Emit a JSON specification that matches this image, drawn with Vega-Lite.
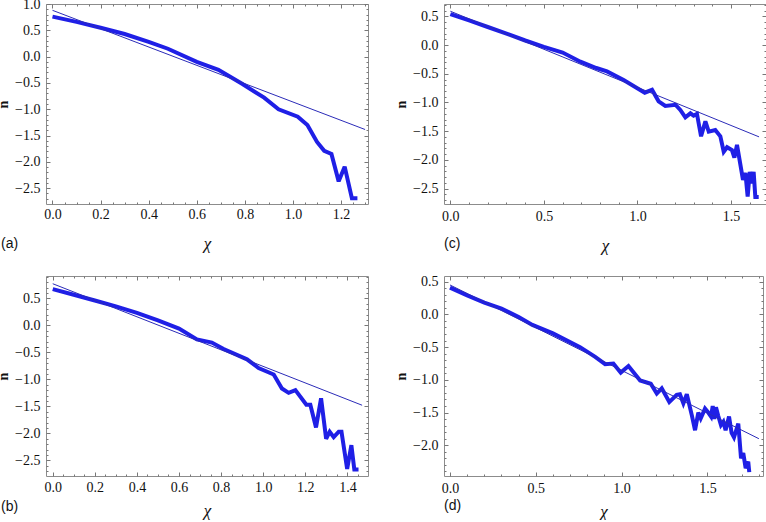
{
  "$schema": "https://vega.github.io/schema/vega-lite/v6.json",
  "padding": {"left": -4, "top": -4, "right": 0, "bottom": 0},
  "background": "white",
  "datasets": {
    "a": [
      {"s": "thick", "x": 0, "y": 0.76}, {"s": "thick", "x": 0.1, "y": 0.66}, {"s": "thick", "x": 0.2, "y": 0.55}, {"s": "thick", "x": 0.3, "y": 0.43}, {"s": "thick", "x": 0.4, "y": 0.28}, {"s": "thick", "x": 0.48, "y": 0.15}, {"s": "thick", "x": 0.6, "y": -0.1}, {"s": "thick", "x": 0.69, "y": -0.25}, {"s": "thick", "x": 0.79, "y": -0.52}, {"s": "thick", "x": 0.88, "y": -0.78}, {"s": "thick", "x": 0.94, "y": -1.0}, {"s": "thick", "x": 1.02, "y": -1.14}, {"s": "thick", "x": 1.06, "y": -1.3}, {"s": "thick", "x": 1.1, "y": -1.62}, {"s": "thick", "x": 1.13, "y": -1.79}, {"s": "thick", "x": 1.16, "y": -1.85}, {"s": "thick", "x": 1.19, "y": -2.37}, {"s": "thick", "x": 1.215, "y": -2.09}, {"s": "thick", "x": 1.245, "y": -2.69}, {"s": "thick", "x": 1.268, "y": -2.69},
      {"s": "fit", "x": 0, "y": 0.88}, {"s": "fit", "x": 1.3, "y": -1.385}
    ],
    "b": [
      {"s": "thick", "x": 0, "y": 0.67}, {"s": "thick", "x": 0.1, "y": 0.565}, {"s": "thick", "x": 0.2, "y": 0.46}, {"s": "thick", "x": 0.3, "y": 0.35}, {"s": "thick", "x": 0.4, "y": 0.23}, {"s": "thick", "x": 0.5, "y": 0.09}, {"s": "thick", "x": 0.6, "y": -0.06}, {"s": "thick", "x": 0.685, "y": -0.26}, {"s": "thick", "x": 0.756, "y": -0.32}, {"s": "thick", "x": 0.812, "y": -0.44}, {"s": "thick", "x": 0.923, "y": -0.63}, {"s": "thick", "x": 0.978, "y": -0.79}, {"s": "thick", "x": 1.05, "y": -0.91}, {"s": "thick", "x": 1.089, "y": -1.17}, {"s": "thick", "x": 1.121, "y": -1.25}, {"s": "thick", "x": 1.153, "y": -1.2}, {"s": "thick", "x": 1.205, "y": -1.47}, {"s": "thick", "x": 1.224, "y": -1.47}, {"s": "thick", "x": 1.251, "y": -1.89}, {"s": "thick", "x": 1.275, "y": -1.35}, {"s": "thick", "x": 1.299, "y": -2.1}, {"s": "thick", "x": 1.316, "y": -1.97}, {"s": "thick", "x": 1.335, "y": -2.07}, {"s": "thick", "x": 1.359, "y": -1.97}, {"s": "thick", "x": 1.372, "y": -1.97}, {"s": "thick", "x": 1.399, "y": -2.66}, {"s": "thick", "x": 1.419, "y": -2.22}, {"s": "thick", "x": 1.433, "y": -2.67}, {"s": "thick", "x": 1.453, "y": -2.67},
      {"s": "fit", "x": 0, "y": 0.77}, {"s": "fit", "x": 1.47, "y": -1.48}
    ],
    "c": [
      {"s": "thick", "x": 0, "y": 0.54}, {"s": "thick", "x": 0.1, "y": 0.43}, {"s": "thick", "x": 0.2, "y": 0.315}, {"s": "thick", "x": 0.3, "y": 0.2}, {"s": "thick", "x": 0.4, "y": 0.08}, {"s": "thick", "x": 0.5, "y": -0.03}, {"s": "thick", "x": 0.6, "y": -0.13}, {"s": "thick", "x": 0.695, "y": -0.29}, {"s": "thick", "x": 0.78, "y": -0.4}, {"s": "thick", "x": 0.837, "y": -0.46}, {"s": "thick", "x": 0.926, "y": -0.61}, {"s": "thick", "x": 1.039, "y": -0.83}, {"s": "thick", "x": 1.078, "y": -0.78}, {"s": "thick", "x": 1.113, "y": -0.98}, {"s": "thick", "x": 1.149, "y": -1.06}, {"s": "thick", "x": 1.203, "y": -1.04}, {"s": "thick", "x": 1.229, "y": -1.13}, {"s": "thick", "x": 1.256, "y": -1.26}, {"s": "thick", "x": 1.283, "y": -1.19}, {"s": "thick", "x": 1.3, "y": -1.23}, {"s": "thick", "x": 1.318, "y": -1.2}, {"s": "thick", "x": 1.34, "y": -1.59}, {"s": "thick", "x": 1.363, "y": -1.33}, {"s": "thick", "x": 1.381, "y": -1.51}, {"s": "thick", "x": 1.416, "y": -1.48}, {"s": "thick", "x": 1.443, "y": -1.59}, {"s": "thick", "x": 1.461, "y": -1.86}, {"s": "thick", "x": 1.479, "y": -1.78}, {"s": "thick", "x": 1.505, "y": -1.83}, {"s": "thick", "x": 1.518, "y": -1.96}, {"s": "thick", "x": 1.532, "y": -1.74}, {"s": "thick", "x": 1.564, "y": -2.35}, {"s": "thick", "x": 1.577, "y": -2.23}, {"s": "thick", "x": 1.589, "y": -2.64}, {"s": "thick", "x": 1.6, "y": -2.21}, {"s": "thick", "x": 1.61, "y": -2.41}, {"s": "thick", "x": 1.621, "y": -2.21}, {"s": "thick", "x": 1.63, "y": -2.65}, {"s": "thick", "x": 1.648, "y": -2.65},
      {"s": "fit", "x": 0, "y": 0.59}, {"s": "fit", "x": 1.65, "y": -1.6}
    ],
    "d": [
      {"s": "thick", "x": 0, "y": 0.41}, {"s": "thick", "x": 0.1, "y": 0.29}, {"s": "thick", "x": 0.2, "y": 0.18}, {"s": "thick", "x": 0.3, "y": 0.09}, {"s": "thick", "x": 0.4, "y": -0.04}, {"s": "thick", "x": 0.48, "y": -0.16}, {"s": "thick", "x": 0.6, "y": -0.29}, {"s": "thick", "x": 0.758, "y": -0.5}, {"s": "thick", "x": 0.846, "y": -0.65}, {"s": "thick", "x": 0.904, "y": -0.76}, {"s": "thick", "x": 0.952, "y": -0.75}, {"s": "thick", "x": 0.995, "y": -0.89}, {"s": "thick", "x": 1.04, "y": -0.79}, {"s": "thick", "x": 1.108, "y": -1.01}, {"s": "thick", "x": 1.17, "y": -1.06}, {"s": "thick", "x": 1.205, "y": -1.21}, {"s": "thick", "x": 1.234, "y": -1.13}, {"s": "thick", "x": 1.278, "y": -1.34}, {"s": "thick", "x": 1.321, "y": -1.23}, {"s": "thick", "x": 1.34, "y": -1.22}, {"s": "thick", "x": 1.36, "y": -1.36}, {"s": "thick", "x": 1.38, "y": -1.22}, {"s": "thick", "x": 1.409, "y": -1.54}, {"s": "thick", "x": 1.428, "y": -1.77}, {"s": "thick", "x": 1.447, "y": -1.5}, {"s": "thick", "x": 1.461, "y": -1.59}, {"s": "thick", "x": 1.486, "y": -1.44}, {"s": "thick", "x": 1.505, "y": -1.5}, {"s": "thick", "x": 1.521, "y": -1.56}, {"s": "thick", "x": 1.531, "y": -1.4}, {"s": "thick", "x": 1.54, "y": -1.6}, {"s": "thick", "x": 1.55, "y": -1.42}, {"s": "thick", "x": 1.563, "y": -1.55}, {"s": "thick", "x": 1.579, "y": -1.69}, {"s": "thick", "x": 1.593, "y": -1.64}, {"s": "thick", "x": 1.606, "y": -1.77}, {"s": "thick", "x": 1.626, "y": -1.56}, {"s": "thick", "x": 1.641, "y": -1.81}, {"s": "thick", "x": 1.655, "y": -1.88}, {"s": "thick", "x": 1.68, "y": -1.67}, {"s": "thick", "x": 1.696, "y": -2.2}, {"s": "thick", "x": 1.709, "y": -2.12}, {"s": "thick", "x": 1.723, "y": -2.35}, {"s": "thick", "x": 1.738, "y": -2.25}, {"s": "thick", "x": 1.744, "y": -2.41},
      {"s": "fit", "x": 0, "y": 0.45}, {"s": "fit", "x": 1.8, "y": -1.9}
    ]
  },
  "columns": 2,
  "bounds": "flush",
  "spacing": {"row": 72, "column": 76},
  "concat": [
    {
      "width": 322, "height": 200,
      "data": {"name": "a"},
      "title": {"text": "(a)", "orient": "bottom", "anchor": "start", "frame": "group", "dx": -45, "offset": -14},
      "layer": [
        {"transform": [{"filter": "datum.s == 'thick'"}], "mark": {"type": "line", "color": "#1f1fe6", "strokeWidth": 4, "strokeJoin": "miter", "strokeMiterLimit": 3},
         "encoding": {
           "x": {"field": "x", "type": "quantitative", "scale": {"domain": [-0.027, 1.312], "nice": false, "zero": false},
                 "axis": {"orient": "bottom", "values": [0, 0.2, 0.4, 0.6, 0.8, 1.0, 1.2], "format": ".1f", "tickSize": -4, "labelPadding": 7, "title": "χ"}},
           "y": {"field": "y", "type": "quantitative", "scale": {"domain": [-2.8, 1.0], "nice": false, "zero": false},
                 "axis": {"orient": "left", "values": [-2.5, -2, -1.5, -1, -0.5, 0, 0.5, 1.0], "format": ".1f", "tickSize": -4, "labelPadding": 10, "title": "n"}}
         }},
        {"transform": [{"filter": "datum.s == 'fit'"}], "mark": {"type": "line", "color": "#2b2bb8", "strokeWidth": 1},
         "encoding": {
           "x": {"field": "x", "type": "quantitative", "axis": {"orient": "top", "values": [0, 0.2, 0.4, 0.6, 0.8, 1.0, 1.2], "tickSize": -4, "labels": false, "title": null}},
           "y": {"field": "y", "type": "quantitative", "axis": {"orient": "right", "values": [-2.5, -2, -1.5, -1, -0.5, 0, 0.5, 1.0], "tickSize": -4, "labels": false, "title": null}}
         }},
        {"transform": [{"filter": "datum.s == 'fit'"}], "mark": {"type": "line", "opacity": 0},
         "encoding": {
           "x": {"field": "x", "type": "quantitative", "axis": {"orient": "bottom", "values": [0.05, 0.1, 0.15, 0.25, 0.3, 0.35, 0.45, 0.5, 0.55, 0.65, 0.7, 0.75, 0.85, 0.9, 0.95, 1.05, 1.1, 1.15, 1.25, 1.3], "tickSize": -2, "labels": false, "title": null}},
           "y": {"field": "y", "type": "quantitative", "axis": {"orient": "left", "values": [-2.7, -2.6, -2.4, -2.3, -2.2, -2.1, -1.9, -1.8, -1.7, -1.6, -1.4, -1.3, -1.2, -1.1, -0.9, -0.8, -0.7, -0.6, -0.4, -0.3, -0.2, -0.1, 0.1, 0.2, 0.3, 0.4, 0.6, 0.7, 0.8, 0.9], "tickSize": -2, "labels": false, "title": null}}
         }},
        {"transform": [{"filter": "datum.s == 'fit'"}], "mark": {"type": "line", "opacity": 0},
         "encoding": {
           "x": {"field": "x", "type": "quantitative", "axis": {"orient": "top", "values": [0.05, 0.1, 0.15, 0.25, 0.3, 0.35, 0.45, 0.5, 0.55, 0.65, 0.7, 0.75, 0.85, 0.9, 0.95, 1.05, 1.1, 1.15, 1.25, 1.3], "tickSize": -2, "labels": false, "title": null}},
           "y": {"field": "y", "type": "quantitative", "axis": {"orient": "right", "values": [-2.7, -2.6, -2.4, -2.3, -2.2, -2.1, -1.9, -1.8, -1.7, -1.6, -1.4, -1.3, -1.2, -1.1, -0.9, -0.8, -0.7, -0.6, -0.4, -0.3, -0.2, -0.1, 0.1, 0.2, 0.3, 0.4, 0.6, 0.7, 0.8, 0.9], "tickSize": -2, "labels": false, "title": null}}
         }}
      ],
      "resolve": {"axis": {"x": "independent", "y": "independent"}}
    },
    {
      "width": 322, "height": 200,
      "data": {"name": "c"},
      "title": {"text": "(c)", "orient": "bottom", "anchor": "start", "frame": "group", "dx": 0, "offset": -16},
      "layer": [
        {"transform": [{"filter": "datum.s == 'thick'"}], "mark": {"type": "line", "color": "#1f1fe6", "strokeWidth": 4, "strokeJoin": "miter", "strokeMiterLimit": 3},
         "encoding": {
           "x": {"field": "x", "type": "quantitative", "scale": {"domain": [-0.034, 1.687], "nice": false, "zero": false},
                 "axis": {"orient": "bottom", "values": [0, 0.5, 1.0, 1.5], "format": ".1f", "tickSize": -4, "labelPadding": 9, "title": "χ"}},
           "y": {"field": "y", "type": "quantitative", "scale": {"domain": [-2.77, 0.716], "nice": false, "zero": false},
                 "axis": {"orient": "left", "values": [-2.5, -2, -1.5, -1, -0.5, 0, 0.5], "format": ".1f", "tickSize": -4, "labelPadding": 10, "title": "n"}}
         }},
        {"transform": [{"filter": "datum.s == 'fit'"}], "mark": {"type": "line", "color": "#2b2bb8", "strokeWidth": 1},
         "encoding": {
           "x": {"field": "x", "type": "quantitative", "axis": {"orient": "top", "values": [0, 0.5, 1.0, 1.5], "tickSize": -4, "labels": false, "title": null}},
           "y": {"field": "y", "type": "quantitative", "axis": {"orient": "right", "values": [-2.5, -2, -1.5, -1, -0.5, 0, 0.5], "tickSize": -4, "labels": false, "title": null}}
         }},
        {"transform": [{"filter": "datum.s == 'fit'"}], "mark": {"type": "line", "opacity": 0},
         "encoding": {
           "x": {"field": "x", "type": "quantitative", "axis": {"orient": "bottom", "values": [0.1, 0.2, 0.3, 0.4, 0.6, 0.7, 0.8, 0.9, 1.1, 1.2, 1.3, 1.4, 1.6], "tickSize": -2, "labels": false, "title": null}},
           "y": {"field": "y", "type": "quantitative", "axis": {"orient": "left", "values": [-2.7, -2.6, -2.4, -2.3, -2.2, -2.1, -1.9, -1.8, -1.7, -1.6, -1.4, -1.3, -1.2, -1.1, -0.9, -0.8, -0.7, -0.6, -0.4, -0.3, -0.2, -0.1, 0.1, 0.2, 0.3, 0.4, 0.6, 0.7], "tickSize": -2, "labels": false, "title": null}}
         }},
        {"transform": [{"filter": "datum.s == 'fit'"}], "mark": {"type": "line", "opacity": 0},
         "encoding": {
           "x": {"field": "x", "type": "quantitative", "axis": {"orient": "top", "values": [0.1, 0.2, 0.3, 0.4, 0.6, 0.7, 0.8, 0.9, 1.1, 1.2, 1.3, 1.4, 1.6], "tickSize": -2, "labels": false, "title": null}},
           "y": {"field": "y", "type": "quantitative", "axis": {"orient": "right", "values": [-2.7, -2.6, -2.4, -2.3, -2.2, -2.1, -1.9, -1.8, -1.7, -1.6, -1.4, -1.3, -1.2, -1.1, -0.9, -0.8, -0.7, -0.6, -0.4, -0.3, -0.2, -0.1, 0.1, 0.2, 0.3, 0.4, 0.6, 0.7], "tickSize": -2, "labels": false, "title": null}}
         }}
      ],
      "resolve": {"axis": {"x": "independent", "y": "independent"}}
    },
    {
      "width": 322, "height": 200,
      "data": {"name": "b"},
      "title": {"text": "(b)", "orient": "bottom", "anchor": "start", "frame": "group", "dx": -45, "offset": -18},
      "layer": [
        {"transform": [{"filter": "datum.s == 'thick'"}], "mark": {"type": "line", "color": "#1f1fe6", "strokeWidth": 4, "strokeJoin": "miter", "strokeMiterLimit": 3},
         "encoding": {
           "x": {"field": "x", "type": "quantitative", "scale": {"domain": [-0.032, 1.498], "nice": false, "zero": false},
                 "axis": {"orient": "bottom", "values": [0, 0.2, 0.4, 0.6, 0.8, 1.0, 1.2, 1.4], "format": ".1f", "tickSize": -4, "labelPadding": 8, "title": "χ", "titlePadding": 8}},
           "y": {"field": "y", "type": "quantitative", "scale": {"domain": [-2.79, 0.913], "nice": false, "zero": false},
                 "axis": {"orient": "left", "values": [-2.5, -2, -1.5, -1, -0.5, 0, 0.5], "format": ".1f", "tickSize": -4, "labelPadding": 10, "title": "n"}}
         }},
        {"transform": [{"filter": "datum.s == 'fit'"}], "mark": {"type": "line", "color": "#2b2bb8", "strokeWidth": 1},
         "encoding": {
           "x": {"field": "x", "type": "quantitative", "axis": {"orient": "top", "values": [0, 0.2, 0.4, 0.6, 0.8, 1.0, 1.2, 1.4], "tickSize": -4, "labels": false, "title": null}},
           "y": {"field": "y", "type": "quantitative", "axis": {"orient": "right", "values": [-2.5, -2, -1.5, -1, -0.5, 0, 0.5], "tickSize": -4, "labels": false, "title": null}}
         }},
        {"transform": [{"filter": "datum.s == 'fit'"}], "mark": {"type": "line", "opacity": 0},
         "encoding": {
           "x": {"field": "x", "type": "quantitative", "axis": {"orient": "bottom", "values": [0.05, 0.1, 0.15, 0.25, 0.3, 0.35, 0.45, 0.5, 0.55, 0.65, 0.7, 0.75, 0.85, 0.9, 0.95, 1.05, 1.1, 1.15, 1.25, 1.3, 1.35, 1.45], "tickSize": -2, "labels": false, "title": null}},
           "y": {"field": "y", "type": "quantitative", "axis": {"orient": "left", "values": [-2.7, -2.6, -2.4, -2.3, -2.2, -2.1, -1.9, -1.8, -1.7, -1.6, -1.4, -1.3, -1.2, -1.1, -0.9, -0.8, -0.7, -0.6, -0.4, -0.3, -0.2, -0.1, 0.1, 0.2, 0.3, 0.4, 0.6, 0.7, 0.8, 0.9], "tickSize": -2, "labels": false, "title": null}}
         }},
        {"transform": [{"filter": "datum.s == 'fit'"}], "mark": {"type": "line", "opacity": 0},
         "encoding": {
           "x": {"field": "x", "type": "quantitative", "axis": {"orient": "top", "values": [0.05, 0.1, 0.15, 0.25, 0.3, 0.35, 0.45, 0.5, 0.55, 0.65, 0.7, 0.75, 0.85, 0.9, 0.95, 1.05, 1.1, 1.15, 1.25, 1.3, 1.35, 1.45], "tickSize": -2, "labels": false, "title": null}},
           "y": {"field": "y", "type": "quantitative", "axis": {"orient": "right", "values": [-2.7, -2.6, -2.4, -2.3, -2.2, -2.1, -1.9, -1.8, -1.7, -1.6, -1.4, -1.3, -1.2, -1.1, -0.9, -0.8, -0.7, -0.6, -0.4, -0.3, -0.2, -0.1, 0.1, 0.2, 0.3, 0.4, 0.6, 0.7, 0.8, 0.9], "tickSize": -2, "labels": false, "title": null}}
         }}
      ],
      "resolve": {"axis": {"x": "independent", "y": "independent"}}
    },
    {
      "width": 319, "height": 200,
      "data": {"name": "d"},
      "title": {"text": "(d)", "orient": "bottom", "anchor": "start", "frame": "group", "dx": 0, "offset": -20},
      "layer": [
        {"transform": [{"filter": "datum.s == 'thick'"}], "mark": {"type": "line", "color": "#1f1fe6", "strokeWidth": 4, "strokeJoin": "miter", "strokeMiterLimit": 3},
         "encoding": {
           "x": {"field": "x", "type": "quantitative", "scale": {"domain": [-0.035, 1.824], "nice": false, "zero": false},
                 "axis": {"orient": "bottom", "values": [0, 0.5, 1.0, 1.5], "format": ".1f", "tickSize": -4, "labelPadding": 9, "title": "χ", "titlePadding": 8}},
           "y": {"field": "y", "type": "quantitative", "scale": {"domain": [-2.47, 0.587], "nice": false, "zero": false},
                 "axis": {"orient": "left", "values": [-2, -1.5, -1, -0.5, 0, 0.5], "format": ".1f", "tickSize": -4, "labelPadding": 10, "title": "n"}}
         }},
        {"transform": [{"filter": "datum.s == 'fit'"}], "mark": {"type": "line", "color": "#2b2bb8", "strokeWidth": 1},
         "encoding": {
           "x": {"field": "x", "type": "quantitative", "axis": {"orient": "top", "values": [0, 0.5, 1.0, 1.5], "tickSize": -4, "labels": false, "title": null}},
           "y": {"field": "y", "type": "quantitative", "axis": {"orient": "right", "values": [-2, -1.5, -1, -0.5, 0, 0.5], "tickSize": -4, "labels": false, "title": null}}
         }},
        {"transform": [{"filter": "datum.s == 'fit'"}], "mark": {"type": "line", "opacity": 0},
         "encoding": {
           "x": {"field": "x", "type": "quantitative", "axis": {"orient": "bottom", "values": [0.1, 0.2, 0.3, 0.4, 0.6, 0.7, 0.8, 0.9, 1.1, 1.2, 1.3, 1.4, 1.6, 1.7, 1.8], "tickSize": -2, "labels": false, "title": null}},
           "y": {"field": "y", "type": "quantitative", "axis": {"orient": "left", "values": [-2.4, -2.3, -2.2, -2.1, -1.9, -1.8, -1.7, -1.6, -1.4, -1.3, -1.2, -1.1, -0.9, -0.8, -0.7, -0.6, -0.4, -0.3, -0.2, -0.1, 0.1, 0.2, 0.3, 0.4], "tickSize": -2, "labels": false, "title": null}}
         }},
        {"transform": [{"filter": "datum.s == 'fit'"}], "mark": {"type": "line", "opacity": 0},
         "encoding": {
           "x": {"field": "x", "type": "quantitative", "axis": {"orient": "top", "values": [0.1, 0.2, 0.3, 0.4, 0.6, 0.7, 0.8, 0.9, 1.1, 1.2, 1.3, 1.4, 1.6, 1.7, 1.8], "tickSize": -2, "labels": false, "title": null}},
           "y": {"field": "y", "type": "quantitative", "axis": {"orient": "right", "values": [-2.4, -2.3, -2.2, -2.1, -1.9, -1.8, -1.7, -1.6, -1.4, -1.3, -1.2, -1.1, -0.9, -0.8, -0.7, -0.6, -0.4, -0.3, -0.2, -0.1, 0.1, 0.2, 0.3, 0.4], "tickSize": -2, "labels": false, "title": null}}
         }}
      ],
      "resolve": {"axis": {"x": "independent", "y": "independent"}}
    }
  ],
  "config": {
    "view": {"stroke": "#8c8c8c", "strokeWidth": 1},
    "axis": {"domain": false, "grid": false, "labelFont": "Liberation Serif, Times New Roman, serif", "labelFontSize": 14, "labelColor": "#111111", "tickColor": "#777777", "tickWidth": 1, "labelFlush": false, "labelOverlap": false, "labelBound": false},
    "axisX": {"titleFont": "Liberation Serif, serif", "titleFontStyle": "italic", "titleFontWeight": "normal", "titleFontSize": 17, "titleColor": "#111111", "titlePadding": 14},
    "axisY": {"titleFont": "Liberation Serif, serif", "titleFontWeight": "bold", "titleFontSize": 14, "titleColor": "#111111", "titlePadding": 4},
    "title": {"font": "Liberation Sans, Arial, sans-serif", "fontSize": 14, "fontWeight": "normal", "color": "#111111"}
  }
}
